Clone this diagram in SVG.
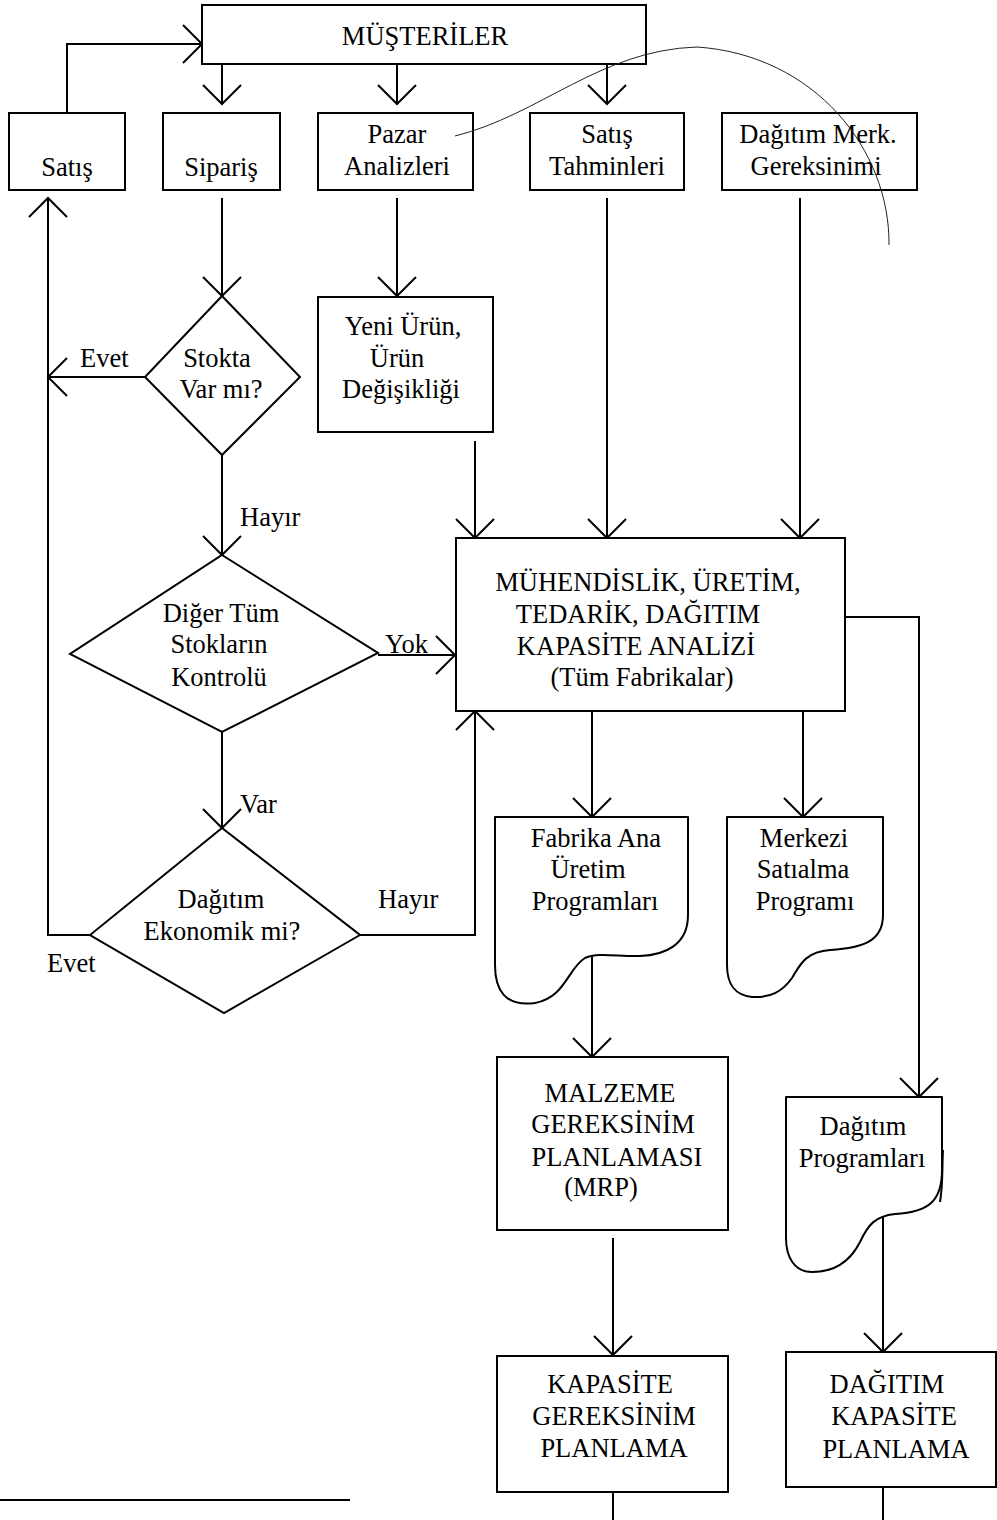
<svg xmlns="http://www.w3.org/2000/svg" width="997" height="1520" viewBox="0 0 997 1520">
  <style>
    .box { fill: #fff; stroke: #000; stroke-width: 2; }
    .doc { fill: #fff; stroke: #000; stroke-width: 2; stroke-linejoin: round; }
    .edge { fill: none; stroke: #000; stroke-width: 2; }
    .arrow { fill: none; stroke: #000; stroke-width: 2; marker-end: url(#open); }
    .thin { fill: none; stroke: #222; stroke-width: 1; }
    text { font-family: "Liberation Serif", "Times New Roman", serif; font-size: 26.5px; fill: #000; }
    .c { text-anchor: middle; }
  </style>
  <defs>
    <marker id="open" viewBox="-21 -21 22 42" refX="0" refY="0" markerWidth="22" markerHeight="42" markerUnits="userSpaceOnUse" orient="auto" overflow="visible">
      <path d="M-19,-19 L0,0 L-19,19" fill="none" stroke="#000" stroke-width="2"/>
    </marker>
  </defs>
  <rect width="997" height="1520" fill="#fff"/>

  <!-- connectors -->
  <g id="connectors">
    <path class="arrow" d="M67,113 V44 H202"/>
    <path class="arrow" d="M222,64 V104"/>
    <path class="arrow" d="M397,64 V104"/>
    <path class="arrow" d="M607,64 V104"/>
    <path class="arrow" d="M222,198 V296"/>
    <path class="arrow" d="M397,198 V296"/>
    <path class="arrow" d="M145,377 H48"/>
    <path class="arrow" d="M90,935 H48 V198"/>
    <path class="arrow" d="M222,455 V555"/>
    <path class="arrow" d="M378,655 H455"/>
    <path class="arrow" d="M475,441 V538"/>
    <path class="arrow" d="M607,198 V538"/>
    <path class="arrow" d="M800,198 V538"/>
    <path class="arrow" d="M222,732 V828"/>
    <path class="arrow" d="M360,935 H475 V711"/>
    <path class="arrow" d="M592,711 V817"/>
    <path class="arrow" d="M803,711 V817"/>
    <path class="arrow" d="M845,617 H919 V1097"/>
    <path class="arrow" d="M592,957 V1057"/>
    <path class="arrow" d="M613,1238 V1355"/>
    <path class="arrow" d="M883,1215 V1352"/>
    <path class="edge" d="M613,1492 V1520"/>
    <path class="edge" d="M883,1487 V1520"/>
    <!-- footer rule -->
    <path class="edge" d="M0,1500 H350"/>
  </g>

  <!-- customers -->
  <g id="musteriler">
    <rect class="box" x="202" y="5" width="444" height="59"/>
    <text class="c" x="425" y="45">MÜŞTERİLER</text>
  </g>

  <g id="satis">
    <rect class="box" x="9" y="113" width="116" height="77"/>
    <text class="c" x="67" y="176">Satış</text>
  </g>
  <g id="siparis">
    <rect class="box" x="163" y="113" width="117" height="77"/>
    <text class="c" x="221" y="176">Sipariş</text>
  </g>
  <g id="pazar">
    <rect class="box" x="318" y="113" width="155" height="77"/>
    <text class="c" x="397" y="143">Pazar</text>
    <text class="c" x="397" y="175">Analizleri</text>
  </g>
  <g id="satis-tahmin">
    <rect class="box" x="530" y="113" width="154" height="77"/>
    <text class="c" x="607" y="143">Satış</text>
    <text class="c" x="607" y="175">Tahminleri</text>
  </g>
  <g id="dagitim-merk">
    <rect class="box" x="722" y="113" width="195" height="77"/>
    <text class="c" x="818" y="143">Dağıtım Merk.</text>
    <text class="c" x="816" y="175">Gereksinimi</text>
  </g>

  <!-- decisions -->
  <g id="stokta">
    <path class="box" d="M222,296 L300,377 L222,455 L145,377 Z"/>
    <text class="c" x="217" y="367">Stokta</text>
    <text class="c" x="221" y="398">Var mı?</text>
  </g>
  <g id="yeni-urun">
    <rect class="box" x="318" y="297" width="175" height="135"/>
    <text class="c" x="403" y="335">Yeni Ürün,</text>
    <text class="c" x="397" y="367">Ürün</text>
    <text class="c" x="401" y="398">Değişikliği</text>
  </g>
  <g id="diger-stoklar">
    <path class="box" d="M222,555 L378,653 L222,732 L70,654 Z"/>
    <text class="c" x="221" y="622">Diğer Tüm</text>
    <text class="c" x="219" y="653">Stokların</text>
    <text class="c" x="219" y="686">Kontrolü</text>
  </g>
  <g id="dagitim-ekonomik">
    <path class="box" d="M222,828 L360,935 L224,1013 L90,935 Z"/>
    <text class="c" x="221" y="908">Dağıtım</text>
    <text class="c" x="222" y="940">Ekonomik mi?</text>
  </g>

  <!-- capacity analysis -->
  <g id="kapasite-analizi">
    <rect class="box" x="456" y="538" width="389" height="173"/>
    <text class="c" x="648" y="591">MÜHENDİSLİK, ÜRETİM,</text>
    <text class="c" x="638" y="623">TEDARİK, DAĞITIM</text>
    <text class="c" x="636" y="655">KAPASİTE ANALİZİ</text>
    <text class="c" x="642" y="686">(Tüm Fabrikalar)</text>
  </g>

  <!-- document outputs -->
  <g id="fabrika-ana">
    <path class="doc" d="M495,817 H688 V915 C688,945 665,955 640,956 C620,957 598,952 585,958 C568,968 565,998 535,1003 C505,1007 495,990 495,965 Z"/>
    <text class="c" x="596" y="847">Fabrika Ana</text>
    <text class="c" x="588" y="878">Üretim</text>
    <text class="c" x="595" y="910">Programları</text>
  </g>
  <g id="merkezi-satialma">
    <path class="doc" d="M727,817 H883 V915 C883,940 865,948 830,950 C805,952 800,965 792,978 C782,992 770,998 752,997 C735,995 727,985 727,965 Z"/>
    <text class="c" x="804" y="847">Merkezi</text>
    <text class="c" x="803" y="878">Satıalma</text>
    <text class="c" x="805" y="910">Programı</text>
  </g>
  <g id="dagitim-programlari">
    <path class="doc" d="M786,1097 H942 V1170 C942,1200 930,1212 895,1214 C875,1216 868,1225 860,1242 C850,1262 835,1272 812,1272 C795,1272 786,1258 786,1238 Z"/>
    <path class="edge" d="M943,1150 C942,1170 943,1185 940,1202" stroke-width="3"/>
    <text class="c" x="863" y="1135">Dağıtım</text>
    <text class="c" x="862" y="1167">Programları</text>
  </g>

  <!-- planning -->
  <g id="mrp">
    <rect class="box" x="497" y="1057" width="231" height="173"/>
    <text class="c" x="610" y="1102">MALZEME</text>
    <text class="c" x="613" y="1133">GEREKSİNİM</text>
    <text class="c" x="617" y="1166">PLANLAMASI</text>
    <text class="c" x="601" y="1196">(MRP)</text>
  </g>
  <g id="kapasite-gereksinim">
    <rect class="box" x="497" y="1356" width="231" height="136"/>
    <text class="c" x="610" y="1393">KAPASİTE</text>
    <text class="c" x="614" y="1425">GEREKSİNİM</text>
    <text class="c" x="614" y="1457">PLANLAMA</text>
  </g>
  <g id="dagitim-kapasite">
    <rect class="box" x="786" y="1352" width="210" height="135"/>
    <text class="c" x="887" y="1393">DAĞITIM</text>
    <text class="c" x="894" y="1425">KAPASİTE</text>
    <text class="c" x="896" y="1458">PLANLAMA</text>
  </g>

  <!-- branch labels -->
  <g id="labels">
    <text x="80" y="367">Evet</text>
    <text x="240" y="526">Hayır</text>
    <text x="385" y="653">Yok</text>
    <text x="240" y="813">Var</text>
    <text x="378" y="908">Hayır</text>
    <text x="47" y="972">Evet</text>
  </g>

  <!-- loose hand-drawn stroke lying over the top row -->
  <g id="pen-stroke">
    <path class="thin" d="M455,136 C540,115 600,50 697,47 C815,55 890,150 889,245"/>
  </g>
</svg>
